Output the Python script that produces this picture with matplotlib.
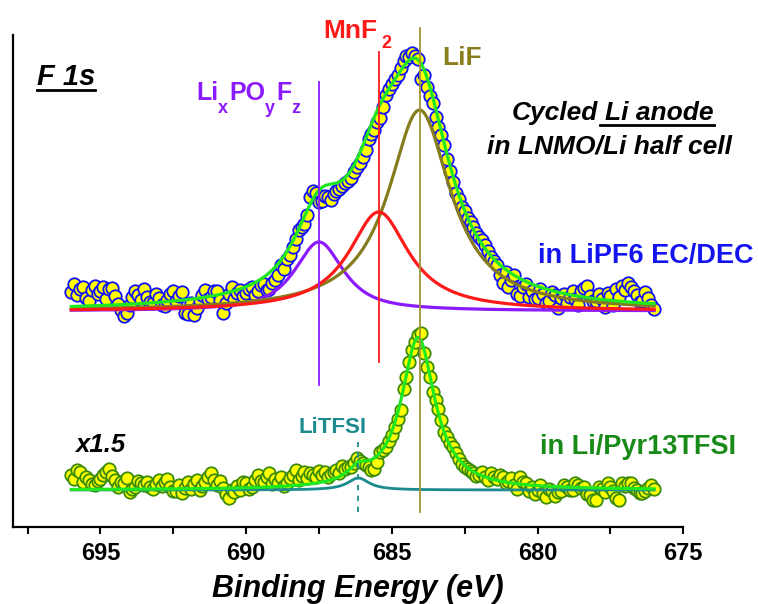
import numpy as np
import matplotlib
matplotlib.use("Agg")
import matplotlib.pyplot as plt
from matplotlib.lines import Line2D

plt.rcParams['font.family'] = ['Liberation Sans', 'DejaVu Sans']

# ---------------- data (intensity in arbitrary units) ----------------
e_start, e_stop = 696.0, 676.0   # binding-energy window of the scans (eV), 0.1 eV steps

# LiPF6 EC/DEC spectrum (top)
top_y = [235, 243, 232, 238, 240, 229, 226, 237, 241, 233,
         236, 240, 228, 238, 239, 231, 223, 217, 211, 214,
         222, 230, 236, 232, 227, 238, 230, 225, 224, 233,
         229, 222, 221, 227, 233, 236, 226, 231, 235, 214,
         213, 224, 212, 219, 226, 232, 237, 228, 230, 236,
         236, 227, 214, 224, 233, 240, 228, 234, 237, 231,
         234, 238, 240, 232, 236, 242, 243, 237, 238, 244,
         247, 252, 262, 258, 268, 272, 280, 288, 297, 300,
         303, 312, 330, 336, 334, 325, 326, 331, 330, 327,
         333, 336, 338, 341, 344, 346, 349, 355, 360, 364,
         370, 377, 388, 393, 397, 405, 409, 420, 432, 438,
         443, 448, 452, 459, 466, 471, 470, 474, 471, 468,
         448, 452, 440, 431, 424, 410, 400, 392, 382, 368,
         356, 345, 334, 328, 320, 316, 309, 305, 300, 294,
         290, 287, 282, 276, 270, 266, 262, 252, 244, 255,
         240, 247, 252, 233, 231, 240, 243, 230, 236, 228,
         229, 238, 233, 224, 226, 235, 232, 219, 229, 233,
         224, 230, 236, 228, 222, 236, 239, 241, 231, 226,
         226, 233, 228, 220, 234, 231, 222, 238, 230, 241,
         237, 244, 240, 236, 232, 225, 226, 235, 229, 222,
         218]

# Li/Pyr13TFSI spectrum (bottom, x1.5)
bot_y = [52, 48, 57, 55, 45, 50, 47, 43, 42, 46,
         48, 52, 55, 58, 51, 47, 40, 45, 44, 49,
         35, 38, 40, 46, 44, 42, 45, 40, 38, 43,
         47, 41, 45, 48, 40, 36, 36, 42, 34, 39,
         45, 38, 43, 47, 37, 41, 45, 50, 54, 47,
         42, 46, 39, 33, 29, 37, 35, 41, 37, 45,
         44, 38, 40, 47, 52, 46, 45, 50, 54, 43,
         48, 44, 50, 41, 44, 49, 52, 57, 47, 51,
         55, 49, 54, 52, 50, 56, 52, 55, 50, 53,
         55, 57, 54, 61, 58, 60, 60, 64, 69, 66,
         64, 62, 60, 57, 58, 65, 75, 77, 80, 86,
         92, 100, 108, 117, 138, 150, 165, 177, 185, 192,
         194, 174, 160, 150, 135, 127, 118, 107, 95, 90,
         84, 80, 74, 68, 63, 60, 58, 56, 54, 51,
         52, 55, 50, 47, 54, 50, 48, 52, 50, 44,
         46, 49, 42, 38, 50, 45, 44, 36, 40, 33,
         37, 42, 34, 30, 38, 36, 31, 35, 36, 42,
         40, 37, 37, 44, 42, 39, 40, 33, 32, 27,
         27, 40, 38, 35, 44, 40, 36, 29, 27, 44,
         41, 44, 44, 39, 37, 34, 34, 36, 39, 42,
         38]

# fitted components, top spectrum: LixPOyFz, MnF2, LiF
top_names = ['LixPOyFz', 'MnF2', 'LiF']
top_centers = [687.5, 685.45, 684.05]
top_heights = [69, 99, 201]
top_fwhm = [2.0, 2.5, 2.6]
top_eta = [0.85, 1.0, 1.0]
top_base = 216

# fitted components, bottom spectrum: LiTFSI, LiF
bot_centers = [686.15, 684.1]
bot_heights = [12, 152]
bot_fwhm = [0.9, 1.4]
bot_eta = [1.0, 1.0]
bot_base = 37

# marker lines (peak positions) and their extents
vl_x = [687.5, 685.45, 684.05]
vl_lo = [142, 165, 15]
vl_hi = [445, 475, 499]
tfsi_line = [686.15, 15, 85]

xticks = [697.5, 695, 692.5, 690, 687.5, 685, 682.5, 680, 677.5, 675]
xticklabels = ['', '695', '', '690', '', '685', '', '680', '', '675']

# ---------------- colours ----------------
C_VIO = '#8c1aff'
C_RED = '#ff1a1a'
C_OLV = '#857c1e'
C_OLV_L = '#a39436'
C_LIME = '#1fe81f'
C_TEAL = '#1b8b8f'
C_BLUE = '#1414f0'
C_GRN = '#178a17'


def pv(x, c, h, f, eta):
    u = 4 * (x - c) ** 2 / f ** 2
    return h * (eta / (1 + u) + (1 - eta) * np.exp(-np.log(2) * u))


W, H = 758, 604
fig = plt.figure(figsize=(W / 100, H / 100), dpi=100)
ax = fig.add_axes([13 / W, 77 / H, 670.3 / W, 492 / H])
ax.set_xlim(698, 675)
ax.set_ylim(0, 492)

e_top = np.linspace(e_start, e_stop, len(top_y))
e_bot = np.linspace(e_start, e_stop, len(bot_y))
ef = np.linspace(e_start, e_stop, 800)

# top spectrum
comps = [pv(ef, c, h, f, et) for c, h, f, et in zip(top_centers, top_heights, top_fwhm, top_eta)]
ax.scatter(e_top, top_y, s=80, facecolor='#ffff00', edgecolor='#1010ff', linewidth=1.3, zorder=2)
for comp, col, z in zip(comps, [C_VIO, C_RED, C_OLV], [3.1, 3.3, 3.2]):
    ax.plot(ef, top_base + comp, color=col, lw=2.3, zorder=z)
ax.plot(ef, top_base + sum(comps), color=C_LIME, lw=2.3, zorder=3.5)

# bottom spectrum
bcomps = [pv(ef, c, h, f, et) for c, h, f, et in zip(bot_centers, bot_heights, bot_fwhm, bot_eta)]
ax.scatter(e_bot, bot_y, s=80, facecolor='#ffff00', edgecolor='#3a8a0a', linewidth=1.3, zorder=2)
ax.plot(ef, bot_base + bcomps[0], color=C_TEAL, lw=2.0, zorder=3.1)
ax.plot(ef, bot_base + sum(bcomps), color=C_LIME, lw=2.3, zorder=3.5)

# vertical marker lines
for x, lo, hi, col in zip(vl_x, vl_lo, vl_hi, [C_VIO, C_RED, C_OLV_L]):
    ax.plot([x, x], [lo, hi], color=col, lw=1.3, zorder=4, clip_on=False)
ax.plot([tfsi_line[0]] * 2, tfsi_line[1:], color=C_TEAL, lw=1.3, ls=(0, (3, 3)), zorder=4)

# axes style
for s in ['top', 'right']:
    ax.spines[s].set_visible(False)
for s in ['left', 'bottom']:
    ax.spines[s].set_linewidth(1.6)
ax.set_yticks([])
ax.set_xticks(xticks)
ax.set_xticklabels(xticklabels, fontsize=17, fontweight='bold')
ax.tick_params(axis='x', direction='out', length=5, width=1.5, pad=6)

renderer = fig.canvas.get_renderer()


def ftext(x, y, s, **kw):
    return fig.text(x / W, 1 - y / H, s, va='baseline', **kw)


def right_px(t):
    return t.get_window_extent(renderer).x1


def uline(x0, x1, y, lw=2.0):
    fig.add_artist(Line2D([x0 / W, x1 / W], [1 - y / H, 1 - y / H],
                          transform=fig.transFigure, color='black', lw=lw))


# F 1s
t = ftext(37, 85, 'F 1s', fontsize=21, fontweight='bold', style='italic')
uline(37, right_px(t), 90)

# LixPOyFz
x = 196
for s, sz, yb in [('Li', 18, 100), ('x', 13, 113), ('PO', 18, 100), ('y', 13, 113), ('F', 18, 100), ('z', 13, 113)]:
    t = ftext(x, yb, s, fontsize=sz, fontweight='bold', color=C_VIO)
    x = right_px(t) + (1 if sz == 13 else 0)

# MnF2
t = ftext(323, 38, 'MnF', fontsize=19, fontweight='bold', color=C_RED)
ftext(right_px(t) + 4, 48, '2', fontsize=13, fontweight='bold', color=C_RED)

# LiF
ftext(442, 65, 'LiF', fontsize=19, fontweight='bold', color='#8a7d1c')

# Cycled Li anode / in LNMO/Li half cell
t = ftext(512, 120, 'Cycled', fontsize=19, fontweight='bold', style='italic')
xc = right_px(t)
t2 = ftext(xc + 7, 120, 'Li anode', fontsize=19, fontweight='bold', style='italic')
uline(xc + 2, right_px(t2), 125)
ftext(487, 153, 'in LNMO/Li half cell', fontsize=19, fontweight='bold', style='italic')

ftext(754, 263, 'in LiPF6 EC/DEC', fontsize=19.5, fontweight='bold', color=C_BLUE, ha='right')
ftext(540, 454, 'in Li/Pyr13TFSI', fontsize=19.5, fontweight='bold', color=C_GRN)
ftext(298, 433, 'LiTFSI', fontsize=16, fontweight='bold', color=C_TEAL)
ftext(75, 452, 'x1.5', fontsize=18.5, fontweight='bold', style='italic')

ftext(358, 597, 'Binding Energy (eV)', fontsize=22, fontweight='bold', style='italic', ha='center')

fig.savefig('out.png', dpi=100)
